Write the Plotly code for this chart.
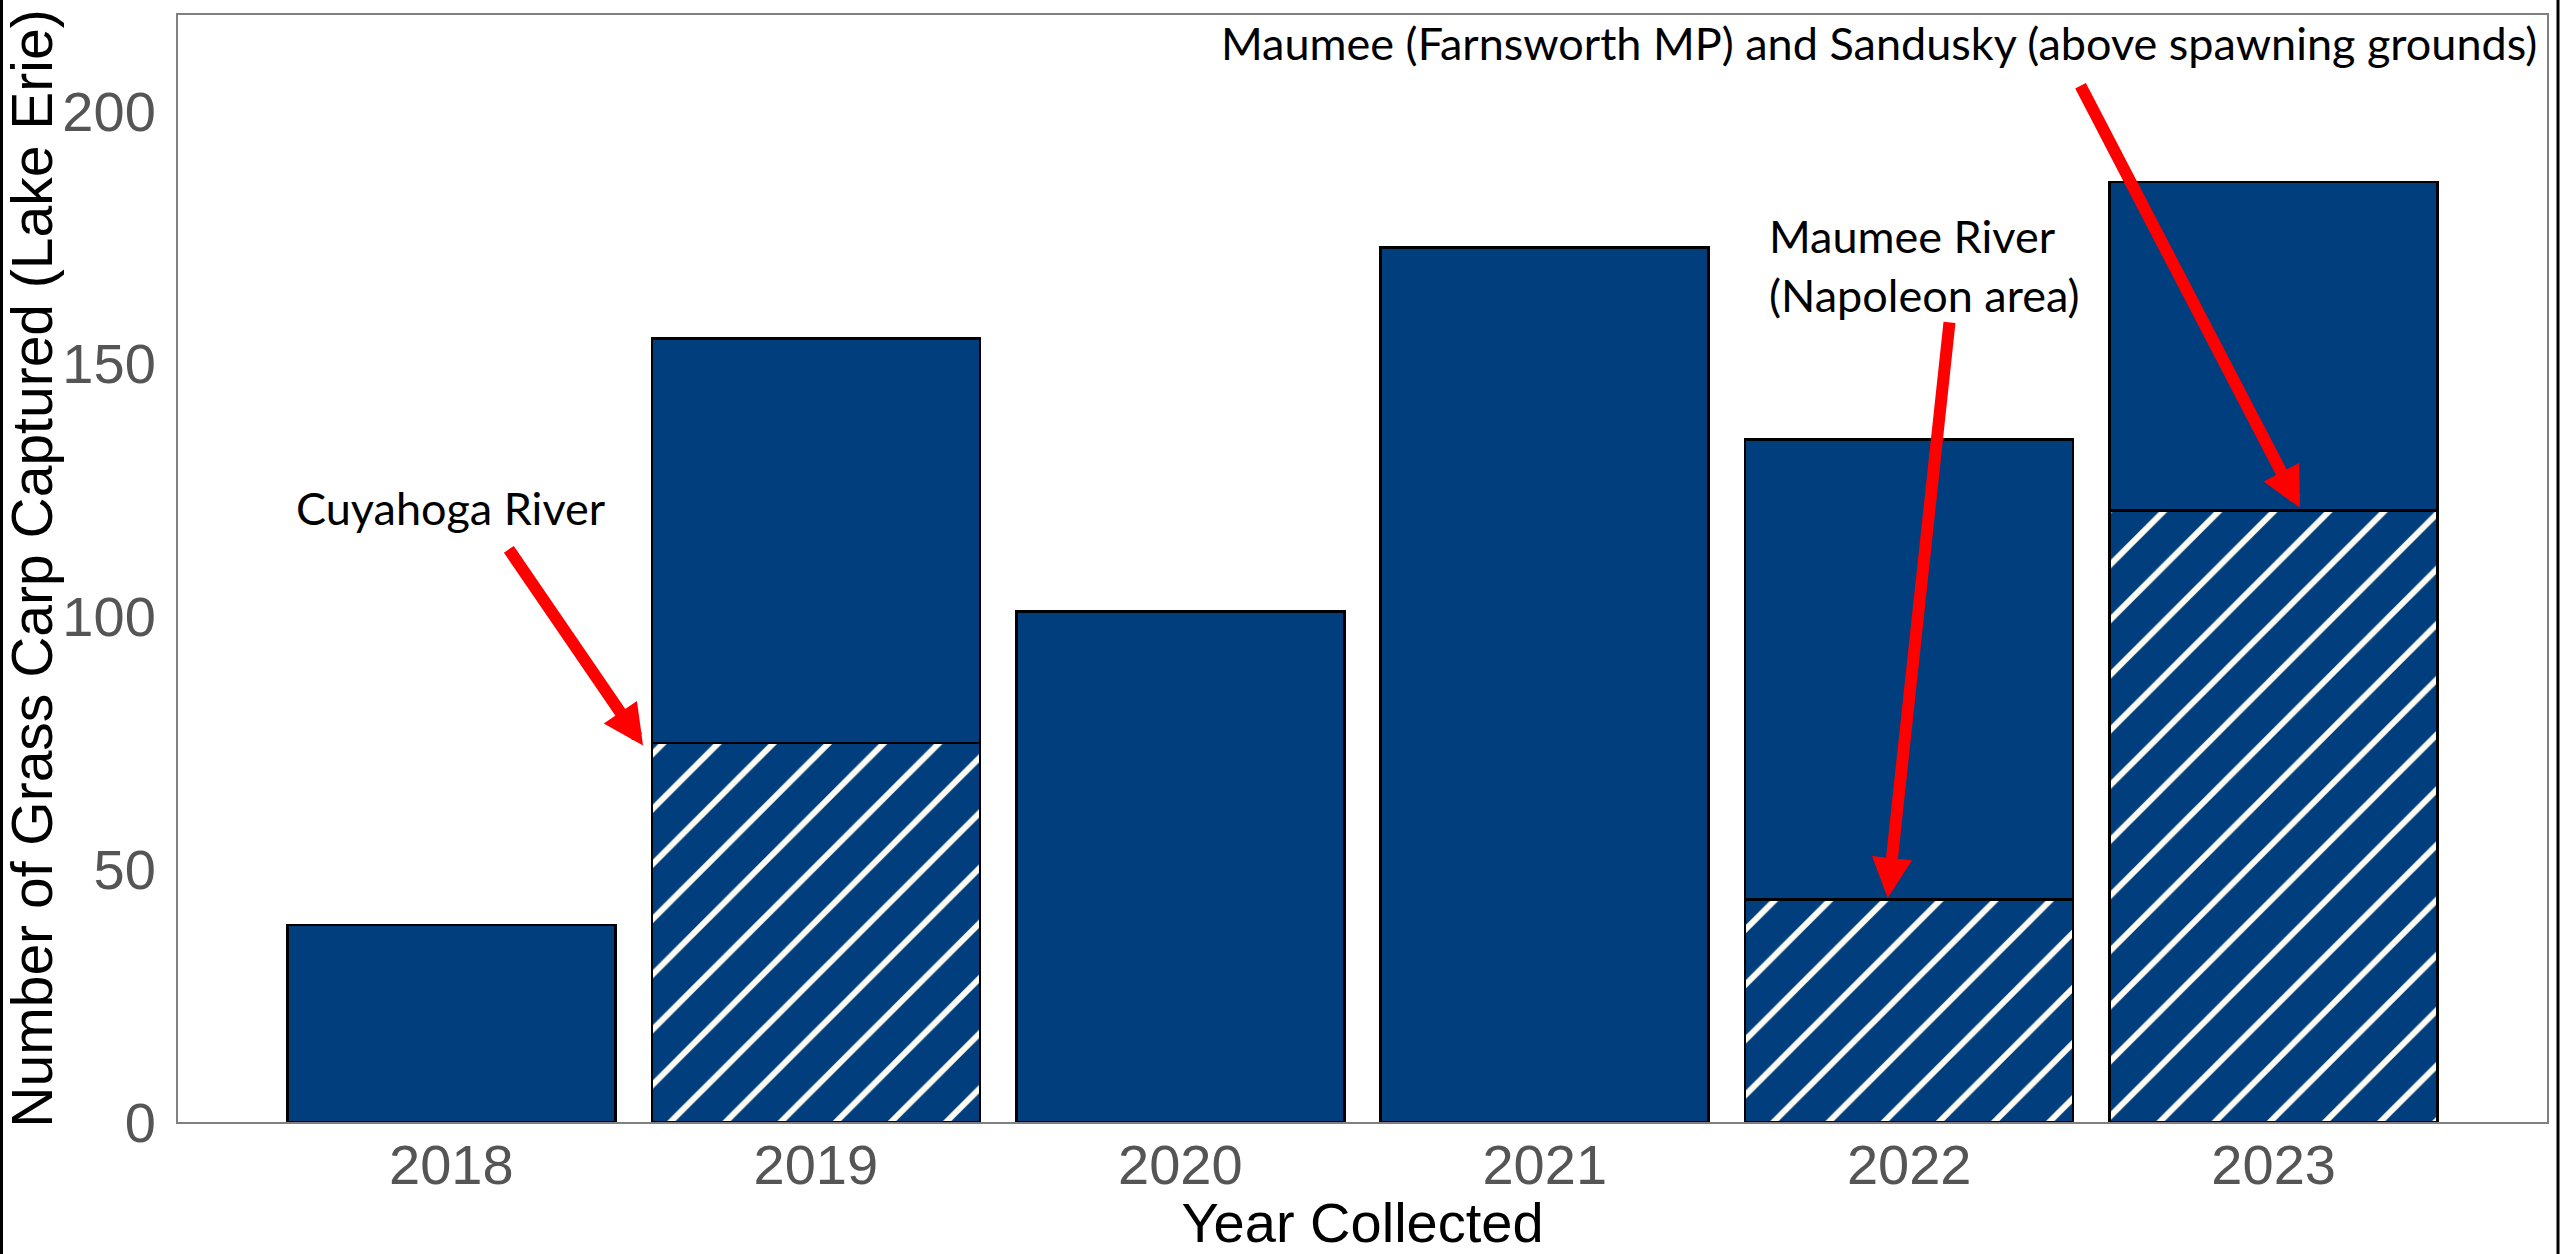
import plotly.graph_objects as go

# ---- data ----
years = ["2018", "2019", "2020", "2021", "2022", "2023"]
total_captured = [39, 155, 101, 173, 135, 186]
hatched_captured = [None, 75, None, None, 44, 121]   # site-specific subset (hatched)
y_ticks = [0, 50, 100, 150, 200]

labels = ["Cuyahoga River",
          "Maumee River<br>(Napoleon area)",
          "Maumee (Farnsworth MP) and Sandusky (above spawning grounds)"]

solid_part = [t - (h or 0) for t, h in zip(total_captured, hatched_captured)]

NAVY = "#013e7d"
W, H = 2560, 1254
ML, MR, MT, MB = 178, 13, 15, 132

fig = go.Figure()
fig.add_trace(go.Bar(
    x=years, y=hatched_captured,
    marker=dict(color=NAVY, line=dict(color="black", width=2.5),
                pattern=dict(shape="/", fgcolor="#fffdf3", bgcolor=NAVY,
                             size=39, solidity=0.15, fillmode="replace")),
    showlegend=False, hoverinfo="skip"))
fig.add_trace(go.Bar(
    x=years, y=solid_part,
    marker=dict(color=NAVY, line=dict(color="black", width=2.5)),
    showlegend=False, hoverinfo="skip"))

ann_font = dict(family="Lato, Open Sans, sans-serif", size=45, color="black")
annotations = [
    dict(x=0.0, y=121.5, xref="x", yref="y", text=labels[0], showarrow=False,
         xanchor="center", yanchor="middle", font=ann_font),
    dict(x=3.61, y=169.5, xref="x", yref="y", text=labels[1], showarrow=False,
         xanchor="left", yanchor="middle", align="left", font=ann_font),
    dict(x=5.727, y=213.5, xref="x", yref="y", text=labels[2], showarrow=False,
         xanchor="right", yanchor="middle", font=ann_font),
]
arrows = [
    ((0.155, 113.6), (0.526, 74.5)),
    ((4.111, 158.5), (3.941, 44.3)),
    ((4.468, 205.3), (5.072, 121.5)),
]
for (ax, ay), (x, y) in arrows:
    annotations.append(dict(
        x=x, y=y, ax=ax, ay=ay, xref="x", yref="y", axref="x", ayref="y",
        text="", showarrow=True, arrowhead=2, arrowsize=0.67, arrowwidth=12,
        arrowcolor="#ff0000", standoff=0))

pw = W - ML - MR
shapes = [
    dict(type="line", xref="paper", yref="paper",
         x0=(1.5 - ML) / pw, x1=(1.5 - ML) / pw, y0=-1, y1=2,
         line=dict(color="black", width=3)),
    dict(type="line", xref="paper", yref="paper",
         x0=(W - 2 - ML) / pw, x1=(W - 2 - ML) / pw, y0=-1, y1=2,
         line=dict(color="black", width=3)),
]

axis_font = dict(family="Liberation Sans, Arial, sans-serif", size=56, color="#555555")
fig.update_layout(
    width=W, height=H,
    margin=dict(l=ML, r=MR, t=MT, b=MB),
    paper_bgcolor="white", plot_bgcolor="white",
    barmode="stack", bargap=0.1,
    annotations=annotations, shapes=shapes,
    xaxis=dict(type="category", range=[-0.75, 5.75], showgrid=False, automargin=False,
               showline=True, linecolor="#808080", linewidth=2, mirror=True,
               ticks="", tickfont=axis_font, ticklabelstandoff=-7,
               title=dict(text="Year Collected", standoff=0,
                          font=dict(family="Liberation Sans, Arial, sans-serif",
                                    size=56, color="black"))),
    yaxis=dict(range=[0, 219], tickvals=y_ticks, showgrid=False, zeroline=False,
               automargin=False,
               showline=True, linecolor="#808080", linewidth=2, mirror=True,
               ticks="", tickfont=axis_font, ticklabelstandoff=9,
               title=dict(text="Number of Grass Carp Captured (Lake Erie)", standoff=3,
                          font=dict(family="Liberation Sans, Arial, sans-serif",
                                    size=57, color="black"))),
)

fig.write_html("out.html",
               config={"displayModeBar": False},
               post_script="document.body.style.margin='0';document.body.style.overflow='hidden';")
